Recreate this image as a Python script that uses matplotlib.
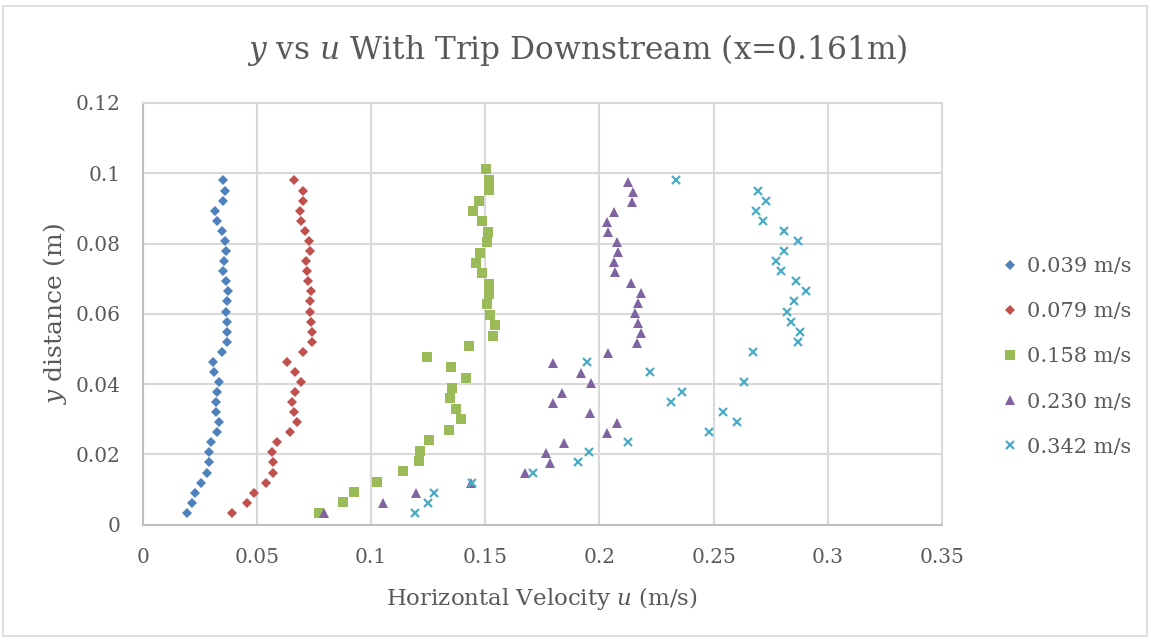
import matplotlib
matplotlib.use("Agg")
import matplotlib.pyplot as plt
from matplotlib.patches import Rectangle

# ---------------- data ----------------
y_common = [0.0981, 0.0950, 0.0922, 0.0894, 0.0865, 0.0837, 0.0808, 0.0780, 0.0751, 0.0723,
            0.0694, 0.0666, 0.0637, 0.0606, 0.0576, 0.0549, 0.0521, 0.0491, 0.0462, 0.0434,
            0.0405, 0.0377, 0.0348, 0.0320, 0.0291, 0.0263, 0.0234, 0.0206, 0.0178, 0.0146,
            0.0118, 0.0089, 0.0061, 0.0032]
y_green = [0.1011, 0.0981, 0.0952, 0.0922, 0.0893, 0.0863, 0.0834, 0.0805, 0.0774, 0.0745,
           0.0715, 0.0685, 0.0656, 0.0627, 0.0598, 0.0568, 0.0538, 0.0509, 0.0478, 0.0448,
           0.0418, 0.0389, 0.0360, 0.0329, 0.0300, 0.0270, 0.0241, 0.0211, 0.0181, 0.0152,
           0.0122, 0.0092, 0.0064, 0.0033]
y_purple = [0.0976, 0.0946, 0.0918, 0.0889, 0.0861, 0.0832, 0.0804, 0.0775, 0.0747, 0.0718,
            0.0689, 0.0660, 0.0632, 0.0603, 0.0575, 0.0546, 0.0516, 0.0489, 0.0461, 0.0433,
            0.0404, 0.0376, 0.0347, 0.0319, 0.0290, 0.0260, 0.0232, 0.0203, 0.0175, 0.0146,
            0.0118, 0.0089, 0.0061, 0.0032]

u_039 = [0.0353, 0.0362, 0.0353, 0.0315, 0.0324, 0.0349, 0.0359, 0.0363, 0.0357, 0.0353,
         0.0365, 0.0372, 0.0368, 0.0365, 0.0368, 0.0370, 0.0368, 0.0346, 0.0306, 0.0312,
         0.0333, 0.0325, 0.0320, 0.0322, 0.0336, 0.0327, 0.0300, 0.0290, 0.0292, 0.0283,
         0.0254, 0.0229, 0.0214, 0.0193]
u_079 = [0.0664, 0.0701, 0.0703, 0.0690, 0.0692, 0.0712, 0.0729, 0.0733, 0.0716, 0.0718,
         0.0725, 0.0737, 0.0734, 0.0733, 0.0737, 0.0741, 0.0740, 0.0702, 0.0630, 0.0667,
         0.0692, 0.0668, 0.0652, 0.0662, 0.0676, 0.0646, 0.0588, 0.0568, 0.0572, 0.0572,
         0.0540, 0.0487, 0.0458, 0.0392]
u_158 = [0.1504, 0.1515, 0.1515, 0.1472, 0.1446, 0.1487, 0.1513, 0.1507, 0.1477, 0.1458,
         0.1486, 0.1517, 0.1517, 0.1509, 0.1522, 0.1544, 0.1532, 0.1427, 0.1246, 0.1350,
         0.1417, 0.1356, 0.1347, 0.1370, 0.1394, 0.1342, 0.1254, 0.1214, 0.1210, 0.1138,
         0.1026, 0.0925, 0.0877, 0.0773]
u_230 = [0.2126, 0.2145, 0.2142, 0.2065, 0.2032, 0.2036, 0.2078, 0.2082, 0.2062, 0.2068,
         0.2139, 0.2182, 0.2170, 0.2155, 0.2167, 0.2180, 0.2165, 0.2036, 0.1795, 0.1919,
         0.1964, 0.1835, 0.1795, 0.1960, 0.2075, 0.2033, 0.1843, 0.1764, 0.1782, 0.1673,
         0.1436, 0.1197, 0.1051, 0.0795]
u_342 = [0.2334, 0.2695, 0.2728, 0.2687, 0.2717, 0.2809, 0.2868, 0.2809, 0.2774, 0.2795,
         0.2860, 0.2903, 0.2852, 0.2820, 0.2839, 0.2878, 0.2869, 0.2673, 0.1944, 0.2221,
         0.2633, 0.2360, 0.2314, 0.2542, 0.2601, 0.2479, 0.2126, 0.1955, 0.1905, 0.1710,
         0.1440, 0.1277, 0.1251, 0.1192]

series_labels = ["0.039 m/s", "0.079 m/s", "0.158 m/s", "0.230 m/s", "0.342 m/s"]
x_ticks = [0, 0.05, 0.1, 0.15, 0.2, 0.25, 0.3, 0.35]
x_ticklabels = ["0", "0.05", "0.1", "0.15", "0.2", "0.25", "0.3", "0.35"]
y_ticks = [0, 0.02, 0.04, 0.06, 0.08, 0.1, 0.12]
y_ticklabels = ["0", "0.02", "0.04", "0.06", "0.08", "0.1", "0.12"]

# ---------------- style ----------------
plt.rcParams['font.family'] = ['DejaVu Serif']
plt.rcParams['mathtext.fontset'] = 'custom'
plt.rcParams['mathtext.rm'] = 'DejaVu Serif'
plt.rcParams['mathtext.it'] = 'DejaVu Serif:italic'
TXT = '#595959'
GRID = '#d9d9d9'

fig = plt.figure(figsize=(11.51, 6.40), dpi=100)
fig.patch.set_facecolor('white')
fig.add_artist(Rectangle((3 / 1151, 4 / 640), 1144 / 1151, 630 / 640,
                         transform=fig.transFigure, fill=False,
                         edgecolor=GRID, linewidth=1.2))

ax = fig.add_axes([142.7 / 1151, 1 - 524.7 / 640, (942 - 142.7) / 1151, (524.7 - 103) / 640])

specs = [
    (u_039, y_common, 'D', '#4F81BD', 4.9, 0.0),
    (u_079, y_common, 'D', '#C0504D', 4.9, 0.0),
    (u_158, y_green, 's', '#9BBB59', 6.6, 0.0),
    (u_230, y_purple, '^', '#8064A2', 7.2, 0.0),
    (u_342, y_common, 'x', '#4BACC6', 6.0, 1.6),
]
for (u, y, m, c, ms, mew), lab in zip(specs, series_labels):
    ax.plot(u, y, linestyle='none', marker=m, color=c, markersize=ms,
            markeredgewidth=mew, label=lab, zorder=3)

ax.set_xlim(0, 0.35)
ax.set_ylim(0, 0.12)
ax.set_xticks(x_ticks)
ax.set_xticklabels(x_ticklabels)
ax.set_yticks(y_ticks)
ax.set_yticklabels(y_ticklabels)
ax.grid(True, color=GRID, linewidth=1.5, zorder=0)
ax.set_axisbelow(True)
for s in ax.spines.values():
    s.set_color(GRID)
    s.set_linewidth(1.5)
ax.spines['left'].set_color('#bfbfbf')
ax.spines['bottom'].set_color('#bfbfbf')
ax.tick_params(axis='both', length=0, labelsize=14.5, colors=TXT)
ax.tick_params(axis='x', pad=17)
ax.tick_params(axis='y', pad=16)

ax.set_xlabel(r"Horizontal Velocity $\it{u}$ (m/s)", fontsize=16.5, color=TXT, labelpad=13)
ax.set_ylabel(r"$\it{y}$ distance (m)", fontsize=18, color=TXT, labelpad=5)

fig.text(0.502, 1 - 50 / 640, r"$\it{y}$ vs $\it{u}$ With Trip Downstream (x=0.161m)",
         ha='center', va='center', fontsize=22.5, color=TXT)

leg = fig.legend(loc='center left', bbox_to_anchor=(1003 / 1151, 1 - 357 / 640),
                 frameon=False, fontsize=15, labelcolor=TXT, handlelength=0.7,
                 handletextpad=0.45, labelspacing=1.25, borderaxespad=0, borderpad=0)

fig.savefig("out.png", dpi=100, facecolor='white')
